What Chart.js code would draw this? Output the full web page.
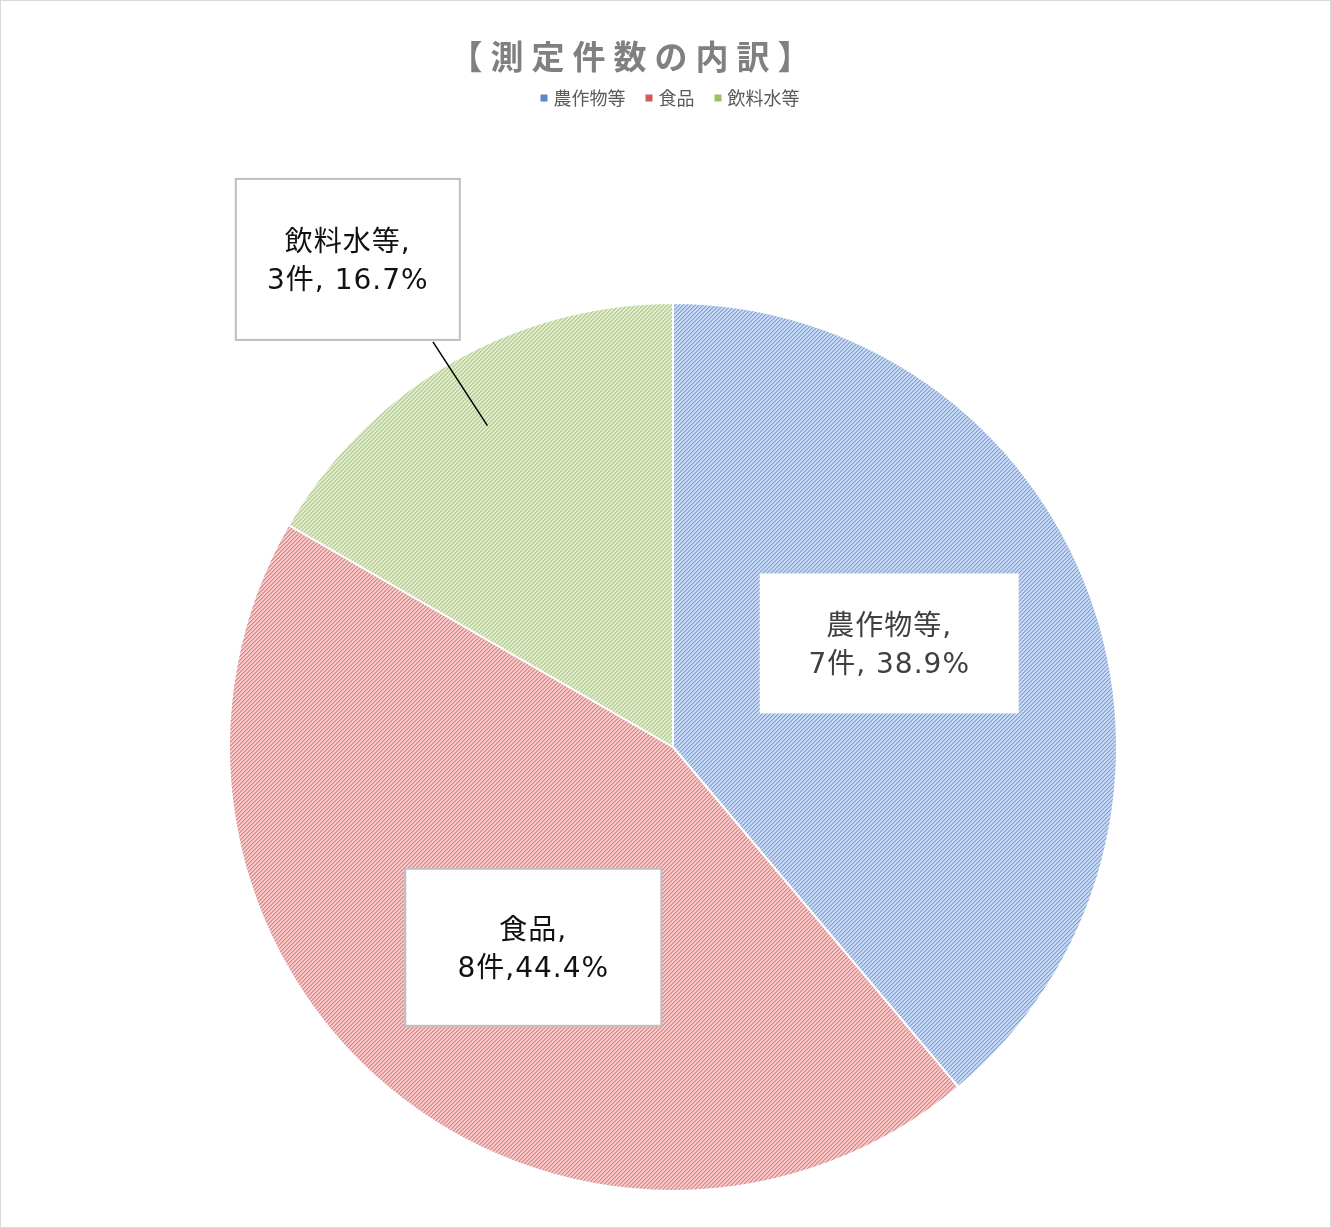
<!DOCTYPE html>
<html>
<head>
<meta charset="utf-8">
<script src="https://cdn.jsdelivr.net/npm/chart.js@4.4.1/dist/chart.umd.min.js"></script>
<style>
  html, body { margin: 0; padding: 0; background: #fff; }
  canvas { display: block; }
</style>
</head>
<body>
<canvas id="c" width="1331" height="1228"></canvas>
<script>
// ---- data ----
const categories = ['農作物等', '食品', '飲料水等'];
const counts = [7, 8, 3];
const countUnit = '件';
const separators = [', ', ',', ', '];
const titleText = '【測定件数の内訳】';

// ---- styles ----
const darkColors = ['#7fa2de', '#de8484', '#b5cd88'];
const midColors = ['#a6c0ea', '#eba5a5', '#c8dba7'];
const lightColors = ['#cadaf2', '#f5cbcb', '#e1edcf'];
const legendColors = ['#5b86cc', '#cf5a5a', '#9dbf62'];
const FONT = '"Noto Sans CJK JP", "Noto Sans", sans-serif';
const LFONT = '"DejaVu Sans", "Noto Sans CJK JP", sans-serif';

function makePattern(dark, mid, light) {
  const t = document.createElement('canvas');
  t.width = 8; t.height = 8;
  const g = t.getContext('2d');
  g.fillStyle = light; g.fillRect(0, 0, 8, 8);
  for (let x = 0; x < 8; x++) for (let y = 0; y < 8; y++) {
    const k = (x + y) % 4;
    if (k === 3) { g.fillStyle = dark; g.fillRect(x, y, 1, 1); }
    else if (k === 0) { g.fillStyle = mid; g.fillRect(x, y, 1, 1); }
  }
  return g.createPattern(t, 'repeat');
}
const ctx0 = document.getElementById('c').getContext('2d');
const patterns = darkColors.map((d, i) => makePattern(d, midColors[i], lightColors[i]));

// label box placement (relative to slice geometry)
const labelLayout = [
  { r: 0.54, da: -5.6, w: 259, h: 140, border: null, color: '#404040' },
  { r: 0.55, da: -5.1, w: 256, h: 157, border: '#bfbfbf', color: '#111' },
  { r: 1.32, da: -3.7, w: 224, h: 161, border: '#bfbfbf', color: '#111', leader: 0.836 }
];

const decor = {
  id: 'decor',
  beforeDraw(chart) {
    const c = chart.ctx;
    c.save();
    c.fillStyle = '#fff';
    c.fillRect(0, 0, chart.width, chart.height);
    c.restore();
  },
  afterDatasetsDraw(chart) {
    const c = chart.ctx;
    const meta = chart.getDatasetMeta(0);
    const data = chart.data.datasets[0].data;
    const total = data.reduce((a, b) => a + b, 0);
    c.save();
    meta.data.forEach((arc, i) => {
      const p = arc.getProps(['x', 'y', 'startAngle', 'endAngle', 'outerRadius'], true);
      const L = labelLayout[i];
      const mid = (p.startAngle + p.endAngle) / 2;
      const a = mid + L.da * Math.PI / 180;
      const cx = p.x + Math.cos(a) * L.r * p.outerRadius;
      const cy = p.y + Math.sin(a) * L.r * p.outerRadius;
      const bx = cx - L.w / 2, by = cy - L.h / 2;
      if (L.leader) {
        const ax = p.x + Math.cos(mid) * L.leader * p.outerRadius;
        const ay = p.y + Math.sin(mid) * L.leader * p.outerRadius;
        c.strokeStyle = '#000';
        c.lineWidth = 1.5;
        c.beginPath();
        c.moveTo(bx + L.w * 0.88, by + L.h + 2);
        c.lineTo(ax, ay);
        c.stroke();
      }
      c.fillStyle = '#fff';
      c.fillRect(bx, by, L.w, L.h);
      if (L.border) {
        c.strokeStyle = L.border;
        c.lineWidth = 2;
        c.strokeRect(bx, by, L.w, L.h);
      }
      const pct = (data[i] / total * 100).toFixed(1) + '%';
      const line1 = chart.data.labels[i] + ',';
      const line2 = data[i] + countUnit + separators[i] + pct;
      c.fillStyle = L.color;
      c.font = '28px ' + LFONT;
      c.letterSpacing = '1px';
      c.textAlign = 'center';
      c.textBaseline = 'middle';
      c.fillText(line1, cx, cy - 16);
      c.fillText(line2, cx, cy + 22);
      c.letterSpacing = '0px';
    });
    c.restore();
  },
  afterDraw(chart) {
    const c = chart.ctx;
    c.save();
    // title
    const ls = 8;
    c.font = 'bold 33px ' + FONT;
    c.fillStyle = '#808080';
    c.textBaseline = 'middle';
    c.textAlign = 'left';
    c.letterSpacing = ls + 'px';
    const tw = c.measureText(titleText).width - ls;
    c.fillText(titleText, 630 - tw / 2, 56);
    c.letterSpacing = '0px';
    // legend
    c.font = '18px ' + FONT;
    const sq = 7, gapSq = 6, gapItem = 20;
    const widths = chart.data.labels.map(l => c.measureText(l).width);
    const totalW = widths.reduce((s, w) => s + sq + gapSq + w, 0) + gapItem * (widths.length - 1);
    let x = 670 - totalW / 2;
    const ly = 98;
    chart.data.labels.forEach((l, i) => {
      c.fillStyle = legendColors[i];
      c.fillRect(x, ly - sq / 2, sq, sq);
      x += sq + gapSq;
      c.fillStyle = '#595959';
      c.fillText(l, x, ly);
      x += widths[i] + gapItem;
    });
    // outer frame
    c.strokeStyle = '#d9d9d9';
    c.lineWidth = 1;
    c.strokeRect(0.5, 0.5, chart.width - 1, chart.height - 1);
    c.restore();
  }
};

new Chart(ctx0, {
  type: 'pie',
  data: {
    labels: categories,
    datasets: [{
      data: counts,
      backgroundColor: patterns,
      borderColor: '#ffffff',
      borderWidth: 2
    }]
  },
  options: {
    responsive: false,
    devicePixelRatio: 1,
    animation: false,
    events: [],
    layout: { padding: { left: 228, right: 213, top: 302, bottom: 36 } },
    plugins: {
      legend: { display: false },
      title: { display: false },
      tooltip: { enabled: false }
    }
  },
  plugins: [decor]
});
</script>
</body>
</html>
